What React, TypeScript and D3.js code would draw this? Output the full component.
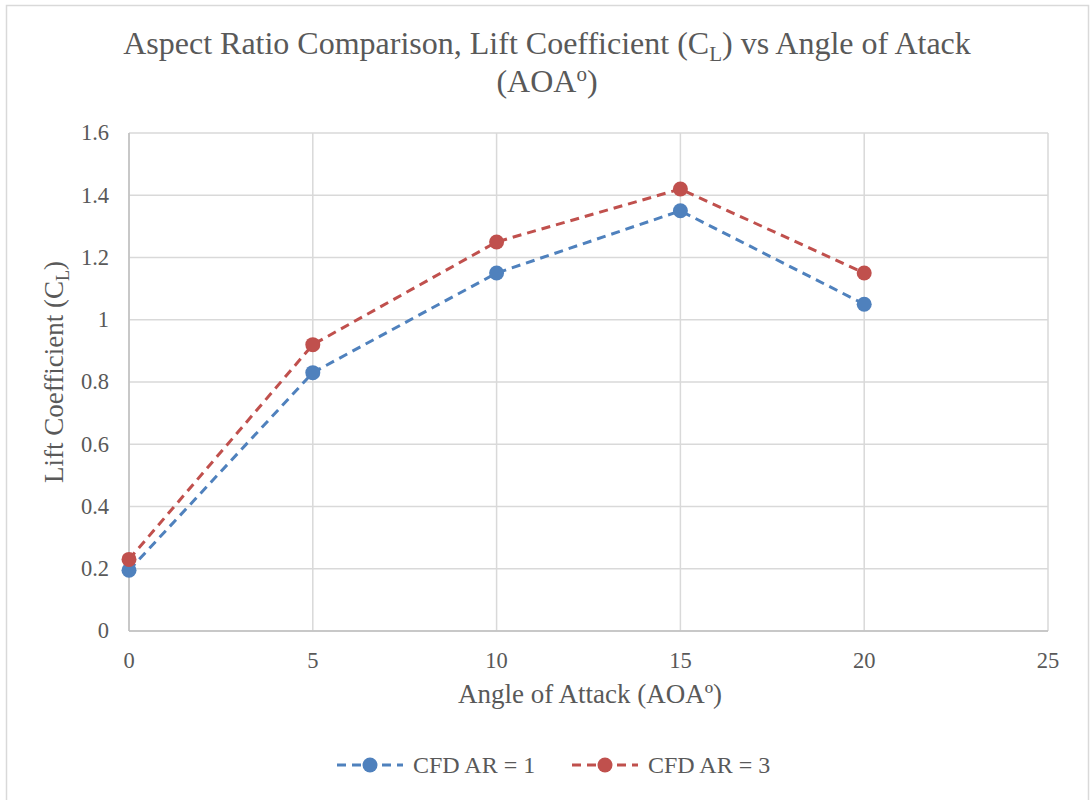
import React from "react";
import * as d3 from "d3";

const aoa = [0, 5, 10, 15, 20];
const clAR1 = [0.195, 0.83, 1.15, 1.35, 1.05];
const clAR3 = [0.23, 0.92, 1.25, 1.42, 1.15];
const xTicks = [0, 5, 10, 15, 20, 25];
const yTicks = [0, 0.2, 0.4, 0.6, 0.8, 1, 1.2, 1.4, 1.6];
const seriesNames = ["CFD AR = 1", "CFD AR = 3"];
const seriesColors = ["#4f81bd", "#c0504d"];

const W = 1090;
const H = 800;
const FONT = "'Liberation Serif', 'Times New Roman', serif";
const TEXT = "#595959";

export default function App() {
  const x = d3.scaleLinear().domain([0, 25]).range([129, 1048]);
  const y = d3.scaleLinear().domain([0, 1.6]).range([631, 133]);
  const line = d3
    .line<[number, number]>()
    .x((d) => x(d[0]))
    .y((d) => y(d[1]));
  const series = [clAR1, clAR3].map((vals) => aoa.map((a, i) => [a, vals[i]] as [number, number]));

  return (
    <div style={{ position: "absolute", left: 0, top: 0 }}>
      <svg width={W} height={H} style={{ display: "block", background: "#fff" }}>
        <rect x={6.5} y={5.5} width={1082} height={810} fill="#fff" stroke="#d9d9d9" strokeWidth={1.5} />
        {/* gridlines */}
        {yTicks.map((t) => (
          <line key={"gy" + t} x1={x(0)} x2={x(25)} y1={y(t)} y2={y(t)} stroke="#d9d9d9" strokeWidth={1.5} />
        ))}
        {xTicks.map((t) => (
          <line key={"gx" + t} x1={x(t)} x2={x(t)} y1={y(0)} y2={y(1.6)} stroke="#d9d9d9" strokeWidth={1.5} />
        ))}
        {/* axes */}
        <line x1={x(0)} x2={x(25)} y1={y(0)} y2={y(0)} stroke="#bfbfbf" strokeWidth={1.5} />
        <line x1={x(0)} x2={x(0)} y1={y(0)} y2={y(1.6)} stroke="#bfbfbf" strokeWidth={1.5} />
        {/* tick labels */}
        {yTicks.map((t) => (
          <text key={"ty" + t} x={109} y={y(t)} dy="0.33em" textAnchor="end" fontFamily={FONT} fontSize={22.5} fill={TEXT}>
            {String(t)}
          </text>
        ))}
        {xTicks.map((t) => (
          <text key={"tx" + t} x={x(t)} y={668} textAnchor="middle" fontFamily={FONT} fontSize={22.5} fill={TEXT}>
            {String(t)}
          </text>
        ))}
        {/* series */}
        {series.map((pts, i) => (
          <g key={"s" + i}>
            <path d={line(pts) || ""} fill="none" stroke={seriesColors[i]} strokeWidth={3} strokeDasharray="9,6" />
            {pts.map((p, j) => (
              <circle key={j} cx={x(p[0])} cy={y(p[1])} r={7.5} fill={seriesColors[i]} />
            ))}
          </g>
        ))}
        {/* title */}
        <text x={547} y={54} textAnchor="middle" fontFamily={FONT} fontSize={32} fill={TEXT}>
          Aspect Ratio Comparison, Lift Coefficient (C
          <tspan fontSize={21} dy={7}>L</tspan>
          <tspan dy={-7}>) vs Angle of Atack</tspan>
        </text>
        <text x={547} y={92} textAnchor="middle" fontFamily={FONT} fontSize={32} fill={TEXT}>
          (AOA<tspan fontSize={21} dy={-11}>o</tspan>
          <tspan dy={11}>)</tspan>
        </text>
        {/* axis titles */}
        <text x={590} y={703} textAnchor="middle" fontFamily={FONT} fontSize={27} fill={TEXT}>
          Angle of Attack (AOAº)
        </text>
        <text transform="translate(63,372) rotate(-90)" textAnchor="middle" fontFamily={FONT} fontSize={27} fill={TEXT}>
          Lift Coefficient (C<tspan fontSize={18} dy={6}>L</tspan>
          <tspan dy={-6}>)</tspan>
        </text>
        {/* legend */}
        {seriesNames.map((name, i) => {
          const lx = 337 + i * 235;
          return (
            <g key={"lg" + i}>
              <line x1={lx} x2={lx + 66} y1={765} y2={765} stroke={seriesColors[i]} strokeWidth={3} strokeDasharray="9,6" />
              <circle cx={lx + 33} cy={765} r={7.5} fill={seriesColors[i]} />
              <text x={lx + 76} y={765} dy="0.35em" fontFamily={FONT} fontSize={24} fill={TEXT}>
                {name}
              </text>
            </g>
          );
        })}
      </svg>
    </div>
  );
}
